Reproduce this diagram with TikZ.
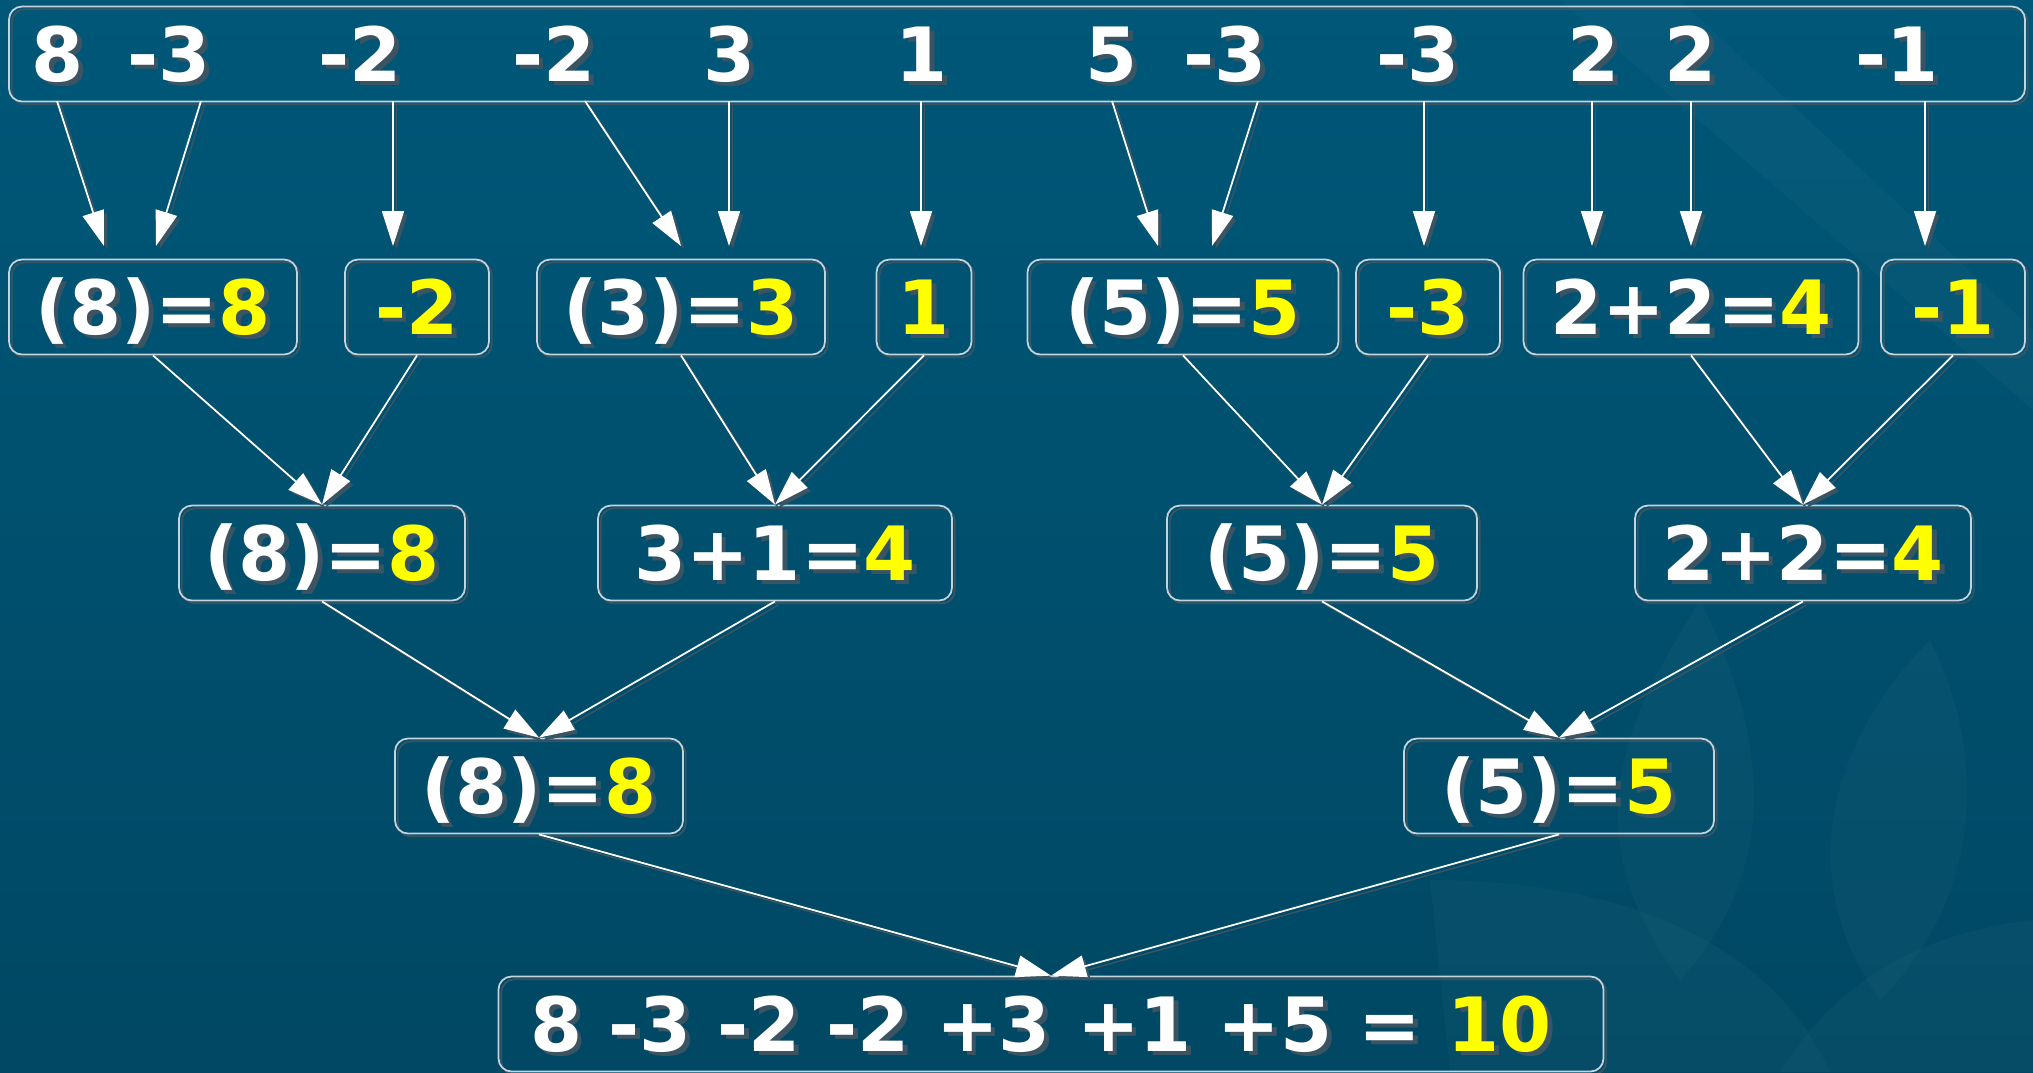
\documentclass[tikz,border=0pt]{standalone}
\usepackage{fontspec}
\setmainfont{DejaVu Sans}
\usetikzlibrary{arrows.meta}
\definecolor{bgtop}{RGB}{0,87,120}
\definecolor{bgbot}{RGB}{0,72,100}
\definecolor{edge}{RGB}{196,212,220}
\definecolor{shade}{RGB}{60,84,98}
\definecolor{hi}{RGB}{255,255,0}
\newcommand\sh[2]{\rlap{\kern1.3pt\raisebox{-1.3pt}{\color{shade}#1#2}}{\color{white}#1}{\color{hi}#2}}
\tikzset{
  box/.style={draw=edge, line width=0.5pt, rounded corners=1.3mm, minimum height=9.5mm, inner sep=0pt,
    preaction={draw=shade, transform canvas={shift={(0.8pt,-0.8pt)}}}},
  num/.style={font=\bfseries\fontsize{21.3}{25}\selectfont, text height=6.4mm, text depth=1mm, inner sep=0pt},
  arr/.style={draw=white, line width=0.5pt, -{Triangle[length=3.5mm,width=2.2mm]},
    preaction={draw=shade, transform canvas={shift={(1pt,-1pt)}}}},
  leaf/.style={fill=white, opacity=0.025},
}

\begin{document}
\begin{tikzpicture}[x=0.1mm, y=-0.1mm]
\useasboundingbox (0,0) rectangle (2033,1072);
\shade[top color=bgtop, bottom color=bgbot] (0,0) rectangle (2033,1072);
\fill[leaf] (1560,0) -- (1680,0) -- (2033,330) -- (2033,410) -- cycle;
\fill[leaf] (1680,980) .. controls (1560,820) and (1640,700) .. (1700,600) .. controls (1760,720) and (1790,860) .. cycle;
\fill[leaf] (1880,1000) .. controls (1780,860) and (1850,720) .. (1930,640) .. controls (1990,760) and (1980,900) .. cycle;
\fill[leaf] (1430,880) .. controls (1650,880) and (1780,960) .. (1830,1072) -- (1450,1072) -- cycle;
\fill[leaf] (1780,1072) .. controls (1850,960) and (1950,930) .. (2033,920) -- (2033,1072) -- cycle;

\node[box, num, minimum width=201.6mm] (top) at (1017,54) {};
\node[num] (n1) at (58,54) {\sh{8}{}};
\node[num] (n2) at (169,54) {\sh{-3}{}};
\node[num] (n3) at (360,54) {\sh{-2}{}};
\node[num] (n4) at (554,54) {\sh{-2}{}};
\node[num] (n5) at (730,54) {\sh{3}{}};
\node[num] (n6) at (922,54) {\sh{1}{}};
\node[num] (n7) at (1112,54) {\sh{5}{}};
\node[num] (n8) at (1225,54) {\sh{-3}{}};
\node[num] (n9) at (1418,54) {\sh{-3}{}};
\node[num] (n10) at (1594,54) {\sh{2}{}};
\node[num] (n11) at (1691,54) {\sh{2}{}};
\node[num] (n12) at (1897,54) {\sh{-1}{}};

\node[box, num, minimum width=28.8mm] (b1) at (153,307) {\sh{(8)=}{8}};
\node[box, num, minimum width=14.4mm] (b2) at (417,307) {\sh{}{-2}};
\node[box, num, minimum width=28.8mm] (b3) at (681,307) {\sh{(3)=}{3}};
\node[box, num, minimum width=9.5mm] (b4) at (924,307) {\sh{}{1}};
\node[box, num, minimum width=31.1mm] (b5) at (1183,307) {\sh{(5)=}{5}};
\node[box, num, minimum width=14.4mm] (b6) at (1428,307) {\sh{}{-3}};
\node[box, num, minimum width=33.5mm] (b7) at (1691,307) {\sh{2+2=}{4}};
\node[box, num, minimum width=14.4mm] (b8) at (1953,307) {\sh{}{-1}};

\node[box, num, minimum width=28.6mm] (c1) at (322,553) {\sh{(8)=}{8}};
\node[box, num, minimum width=35.4mm] (c2) at (775,553) {\sh{3+1=}{4}};
\node[box, num, minimum width=31.0mm] (c3) at (1322,553) {\sh{(5)=}{5}};
\node[box, num, minimum width=33.6mm] (c4) at (1803,553) {\sh{2+2=}{4}};

\node[box, num, minimum width=28.8mm] (d1) at (539,786) {\sh{(8)=}{8}};
\node[box, num, minimum width=31.0mm] (d2) at (1559,786) {\sh{(5)=}{5}};

\node[box, num, minimum width=110.5mm] (sum) at (1051,1024) {\sh{8 -3 -2 -2 +3 +1 +5 = }{10}\kern2mm};

\foreach \a/\b [count=\i] in {57/104, 201/156, 393/393, 585/681, 729/729, 921/921,
    1112/1158, 1258/1212, 1424/1424, 1592/1592, 1691/1691, 1925/1925}{
  \coordinate (s\i) at (\a,101);
  \coordinate (e\i) at (\b,246);
  \draw[arr] (s\i) -- (e\i);
}

\draw[arr] (b1.south) -- (c1.north);
\draw[arr] (b2.south) -- (c1.north);
\draw[arr] (b3.south) -- (c2.north);
\draw[arr] (b4.south) -- (c2.north);
\draw[arr] (b5.south) -- (c3.north);
\draw[arr] (b6.south) -- (c3.north);
\draw[arr] (b7.south) -- (c4.north);
\draw[arr] (b8.south) -- (c4.north);

\draw[arr] (c1.south) -- (d1.north);
\draw[arr] (c2.south) -- (d1.north);
\draw[arr] (c3.south) -- (d2.north);
\draw[arr] (c4.south) -- (d2.north);

\draw[arr] (d1.south) -- (sum.north);
\draw[arr] (d2.south) -- (sum.north);
\end{tikzpicture}
\end{document}
